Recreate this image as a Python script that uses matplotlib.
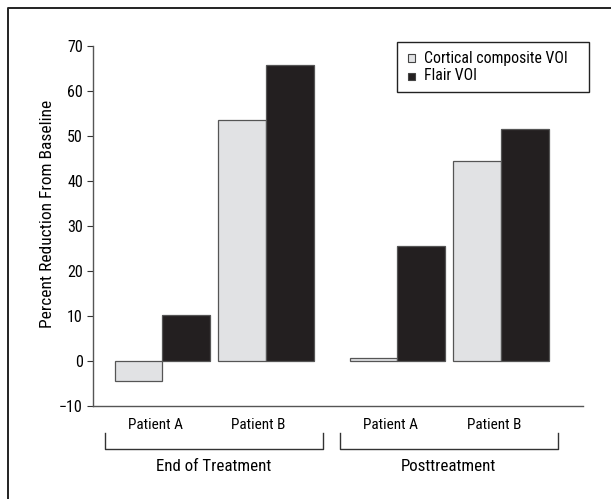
import matplotlib
matplotlib.use("Agg")
import matplotlib.pyplot as plt
from matplotlib.lines import Line2D
from matplotlib.patches import Rectangle
import numpy as np

plt.rcParams["font.family"] = ["Roboto Condensed", "DejaVu Sans"]

# percent reduction from baseline per patient and time point
phases = ["End of Treatment", "Posttreatment"]
patients = ["Patient A", "Patient B"]
cortical = [-4.4, 53.6, 0.7, 44.5]
flair = [10.3, 65.7, 25.5, 51.6]
series_names = ["Cortical composite VOI", "Flair VOI"]
y_ticks = [-10, 0, 10, 20, 30, 40, 50, 60, 70]

light = "#e1e2e4"
dark = "#231f20"
edge = "#555555"

W, H = 611, 499
fig = plt.figure(figsize=(W / 100, H / 100), dpi=100)
ax = fig.add_axes([0.1517, 0.1864, 0.8025, 0.7214])

# pair centres: two patients per phase, wider gap between phases
group_start = [1.46, 6.39]
pair_step = 2.17
centers = np.array([g + i * pair_step for g in group_start for i in range(len(patients))])
w = 1.0

ax.bar(centers - w / 2, cortical, width=w, color=light, edgecolor=edge, linewidth=0.9)
ax.bar(centers + w / 2, flair, width=w, color=dark, edgecolor=edge, linewidth=0.9)

ax.set_xlim(0, 10.28)
ax.set_ylim(-10, 70)
ax.set_yticks(y_ticks)
ax.set_yticklabels([f"\u2212{abs(t)}" if t < 0 else str(t) for t in y_ticks], fontsize=11.5)
ax.set_xticks([])
ax.tick_params(axis="y", length=4, width=0.8, pad=3, color="#333333")
for s in ["top", "right"]:
    ax.spines[s].set_visible(False)
for s in ["left", "bottom"]:
    ax.spines[s].set_color("#555555")
    ax.spines[s].set_linewidth(1.0)

ax.set_ylabel("Percent Reduction From Baseline", fontsize=12.5)
ax.yaxis.set_label_coords(-0.077, 0.535)

# patient labels and phase brackets under the axis
tr = ax.get_xaxis_transform()
for c, name in zip(centers, patients * len(phases)):
    ax.text(c - 0.15, -0.052, name, transform=tr, ha="center", va="center", fontsize=11)

for gi, phase in enumerate(phases):
    lo = centers[gi * 2] - w - 0.21
    hi = centers[gi * 2 + 1] + w + 0.19
    ax.add_line(Line2D([lo, lo, hi, hi], [-0.075, -0.12, -0.12, -0.075], transform=tr,
                       color="#333333", linewidth=1.0, clip_on=False))
    ax.text((lo + hi) / 2, -0.168, phase, transform=tr, ha="center", va="center", fontsize=12.2)

# key box in the upper right, laid out in pixel units
def fx(px):
    return px / W

def fy(py):
    return 1 - py / H

fig.add_artist(Rectangle((fx(397), fy(92)), fx(192), 50 / H, transform=fig.transFigure,
                         facecolor="white", edgecolor="#222222", linewidth=1.0))
for i, (name, col) in enumerate(zip(series_names, [light, dark])):
    yc = 58 + i * 18
    fig.add_artist(Rectangle((fx(408), fy(yc + 3.5)), 7 / W, 7 / H, transform=fig.transFigure,
                             facecolor=col, edgecolor="#444444", linewidth=0.8))
    fig.text(fx(424), fy(yc), name, ha="left", va="center", fontsize=11.3)

# outer frame on the top and left edges
fig.add_artist(Line2D([0.013, 0.013, 1.0], [0.0, 0.984, 0.984], transform=fig.transFigure,
                      color="#222222", linewidth=1.4))

fig.savefig("out.png", dpi=100)
